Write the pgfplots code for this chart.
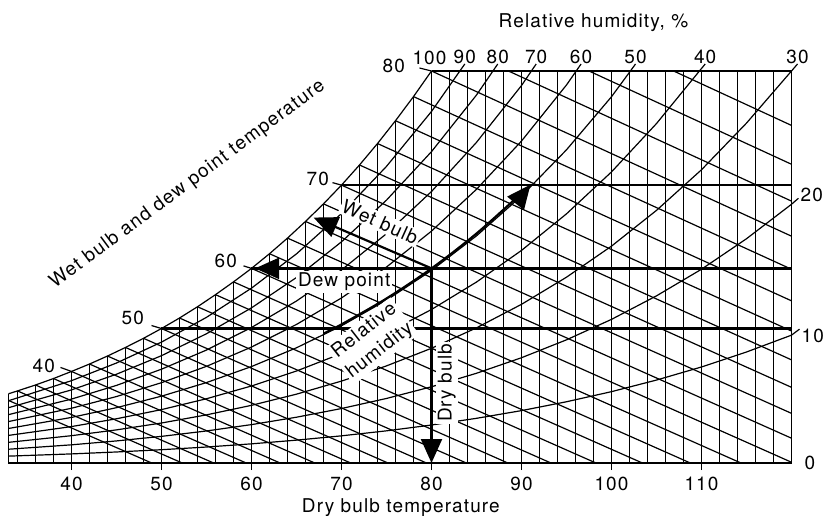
\documentclass[border=0pt]{standalone}
\usepackage{fontspec}
\setmainfont{TeX Gyre Heros}[LetterSpace=6]
\usepackage{pgfplots}
\pgfplotsset{compat=1.18}
\usetikzlibrary{arrows.meta}
\newcommand{\fs}{\fontsize{19bp}{25bp}\selectfont}
\begin{document}
\begin{tikzpicture}[
  gl/.style={black, line width=1.2bp, line join=round},
  bold/.style={black, line width=2.4bp},
  arr/.style={black, line width=2.2bp, -{Triangle[width=21bp,length=24bp]}},
  box/.style={fill=white, inner sep=2bp, font=\fs},
]
\begin{axis}[
  scale only axis, width=783bp, height=392bp,
  xmin=33, xmax=120, ymin=0, ymax=155.72,
  enlargelimits=false, clip=false,
  axis x line=bottom, axis y line=none,
  x axis line style={-, line width=1.2bp},
  xtick={40,50,...,110}, xtick align=outside,
  major tick length=7bp,
  tick style={black, line width=1.2bp},
  xticklabel style={font=\fs, yshift=-4bp},
  /pgf/number format/assume math mode=true,
  unbounded coords=jump,
]
% dry bulb (vertical) lines and right edge
\addplot[gl] coordinates {
(33,0)(33,27.50) (40,nan)
(34,0)(34,28.63) (40,nan)
(36,0)(36,30.99) (40,nan)
(38,0)(38,33.55) (40,nan)
(40,0)(40,36.37) (40,nan)
(42,0)(42,39.31) (40,nan)
(44,0)(44,42.49) (40,nan)
(46,0)(46,45.90) (40,nan)
(48,0)(48,49.53) (40,nan)
(50,0)(50,53.42) (40,nan)
(52,0)(52,57.59) (40,nan)
(54,0)(54,62.07) (40,nan)
(56,0)(56,66.87) (40,nan)
(58,0)(58,71.95) (40,nan)
(60,0)(60,77.31) (40,nan)
(62,0)(62,83.13) (40,nan)
(64,0)(64,89.34) (40,nan)
(66,0)(66,95.96) (40,nan)
(68,0)(68,102.94) (40,nan)
(70,0)(70,110.38) (40,nan)
(72,0)(72,118.38) (40,nan)
(74,0)(74,126.90) (40,nan)
(76,0)(76,135.97) (40,nan)
(78,0)(78,145.55) (40,nan)
(80,0)(80,155.72) (40,nan)
(82,0)(82,155.72) (40,nan)
(84,0)(84,155.72) (40,nan)
(86,0)(86,155.72) (40,nan)
(88,0)(88,155.72) (40,nan)
(90,0)(90,155.72) (40,nan)
(92,0)(92,155.72) (40,nan)
(94,0)(94,155.72) (40,nan)
(96,0)(96,155.72) (40,nan)
(98,0)(98,155.72) (40,nan)
(100,0)(100,155.72) (40,nan)
(102,0)(102,155.72) (40,nan)
(104,0)(104,155.72) (40,nan)
(106,0)(106,155.72) (40,nan)
(108,0)(108,155.72) (40,nan)
(110,0)(110,155.72) (40,nan)
(112,0)(112,155.72) (40,nan)
(114,0)(114,155.72) (40,nan)
(116,0)(116,155.72) (40,nan)
(118,0)(118,155.72) (40,nan)
(120,0)(120,155.72)(80,155.72)
};
% wet bulb lines
\addplot[gl] coordinates {
(33,24.85)(48.91,0) (40,nan)
(34,28.63)(52.30,0) (40,nan)
(36,30.99)(55.79,0) (40,nan)
(38,33.55)(59.41,0) (40,nan)
(40,36.37)(63.18,0) (40,nan)
(42,39.31)(67.03,0) (40,nan)
(44,42.49)(71.02,0) (40,nan)
(46,45.90)(75.16,0) (40,nan)
(48,49.53)(79.44,0) (40,nan)
(50,53.42)(83.87,0) (40,nan)
(52,57.59)(88.48,0) (40,nan)
(54,62.07)(93.27,0) (40,nan)
(56,66.87)(98.27,0) (40,nan)
(58,71.95)(103.43,0) (40,nan)
(60,77.31)(108.76,0) (40,nan)
(62,83.13)(114.38,0) (40,nan)
(64,89.34)(120,0.3) (40,nan)
(66,95.96)(120,9.85) (40,nan)
(68,102.94)(120,19.72) (40,nan)
(70,110.38)(120,30.06) (40,nan)
(72,118.38)(120,40.97) (40,nan)
(74,126.90)(120,52.42) (40,nan)
(76,135.97)(120,64.42) (40,nan)
(78,145.55)(120,76.96) (40,nan)
(80,155.72)(120,90.10) (40,nan)
(88.55,155.72)(120,104.03) (40,nan)
(97.5,155.72)(120,118.67) (40,nan)
(106.9,155.72)(120,134.10)
};
% saturation curve (100 %)
\addplot[gl] coordinates {(33,27.50)(34,28.63)(36,30.99)(38,33.55)(40,36.37)(42,39.31)(44,42.49)(46,45.90)(48,49.53)(50,53.42)(52,57.59)(54,62.07)(56,66.87)(58,71.95)(60,77.31)(62,83.13)(64,89.34)(66,95.96)(68,102.94)(70,110.38)(72,118.38)(74,126.90)(76,135.97)(78,145.55)(80,155.72)};
% relative humidity curves
\addplot[gl] coordinates {(33,2.73)(40,3.61)(45,4.38)(50,5.28)(55,6.35)(60,7.61)(65,9.08)(70,10.79)(75,12.78)(80,15.09)(85,17.75)(90,20.81)(95,24.33)(100,28.34)(105,32.95)(110,38.15)(115,44.10)(120,50.79)(120.89,53.17)};
\addplot[gl] coordinates {(33,5.47)(40,7.22)(45,8.77)(50,10.58)(55,12.73)(60,15.25)(65,18.19)(70,21.64)(75,25.64)(80,30.28)(85,35.65)(90,41.82)(95,48.93)(100,57.05)(105,66.40)(110,76.97)(115,89.09)(120,102.78)(120.77,105.16)};
\addplot[gl] coordinates {(33,8.21)(40,10.85)(45,13.16)(50,15.89)(55,19.12)(60,22.91)(65,27.35)(70,32.54)(75,38.58)(80,45.57)(85,53.69)(90,63.03)(95,73.81)(100,86.15)(105,100.36)(110,116.49)(115,135.02)(120,155.72)(120.67,158.5)};
\addplot[gl] coordinates {(33,10.96)(40,14.47)(45,17.57)(50,21.21)(55,25.53)(60,30.60)(65,36.54)(70,43.49)(75,51.59)(80,60.98)(85,71.88)(90,84.44)(95,98.98)(100,115.63)(105,134.85)(109.77,155.72)(110.41,158.5)};
\addplot[gl] coordinates {(33,13.71)(40,18.11)(45,21.98)(50,26.55)(55,31.95)(60,38.31)(65,45.77)(70,54.50)(75,64.68)(80,76.49)(85,90.23)(90,106.07)(95,124.42)(100,145.50)(102.10,155.72)(102.67,158.5)};
\addplot[gl] coordinates {(33,16.46)(40,21.75)(45,26.40)(50,31.90)(55,38.40)(60,46.06)(65,55.04)(70,65.56)(75,77.85)(80,92.11)(85,108.72)(90,127.90)(95,150.17)(96.08,155.72)(96.62,158.5)};
\addplot[gl] coordinates {(33,19.21)(40,25.39)(45,30.83)(50,37.26)(55,44.87)(60,53.83)(65,64.35)(70,76.68)(75,91.10)(80,107.85)(85,127.38)(90,149.95)(91.10,155.72)(91.63,158.5)};
\addplot[gl] coordinates {(33,21.97)(40,29.04)(45,35.27)(50,42.63)(55,51.35)(60,61.63)(65,73.70)(70,87.86)(75,104.42)(80,123.69)(85,146.18)(86.83,155.72)(87.36,158.5)};
\addplot[gl] coordinates {(33,24.73)(40,32.70)(45,39.72)(50,48.02)(55,57.86)(60,69.46)(65,83.08)(70,99.09)(75,117.83)(80,139.65)(83.15,155.72)(83.70,158.5)};
% bold dew point lines
\addplot[bold] coordinates {(50,53.42)(120,53.42) (40,nan) (60,77.31)(120,77.31) (40,nan) (70,110.38)(120,110.38)};
% annotation boxes
\node[box, rotate=-24.4] at (axis cs:74.3,95.7) {Wet bulb};
\node[box] at (axis cs:70.3,71.9) {Dew point};
\node[box, rotate=38, align=center] at (axis cs:73.4,48.5) {Relative\\humidity};
\node[box, rotate=90] at (axis cs:81.7,31.8) {Dry bulb};
% arrows
\addplot[arr] coordinates {(80,77.31)(80,0)};
\addplot[arr] coordinates {(80,77.31)(60.4,77.31)};
\addplot[arr] coordinates {(80,77.31)(66.9,97.5)};
\addplot[arr, smooth] coordinates {(68,51.39)(70,55.05)(75,65.34)(80,77.27)(85,91.15)(90,107.15)(91,110.60)};
% RH labels
\node[anchor=south, inner sep=0pt, font=\fs] at (axis cs:80,155.72) [yshift=6.5bp, xshift=-2bp] {100};
\node[anchor=south, inner sep=0pt, font=\fs] at (axis cs:83.70,158.5) {90};
\node[anchor=south, inner sep=0pt, font=\fs] at (axis cs:87.36,158.5) {80};
\node[anchor=south, inner sep=0pt, font=\fs] at (axis cs:91.63,158.5) {70};
\node[anchor=south, inner sep=0pt, font=\fs] at (axis cs:96.62,158.5) {60};
\node[anchor=south, inner sep=0pt, font=\fs] at (axis cs:102.67,158.5) {50};
\node[anchor=south, inner sep=0pt, font=\fs] at (axis cs:110.41,158.5) {40};
\node[anchor=south, inner sep=0pt, font=\fs] at (axis cs:120.67,158.5) {30};
\node[anchor=west, inner sep=0pt, font=\fs] at (axis cs:120.77,105.16) [xshift=2bp, yshift=3bp] {20};
\node[anchor=west, inner sep=0pt, font=\fs] at (axis cs:120.89,53.17) [xshift=2bp, yshift=-7bp] {10};
\node[anchor=west, inner sep=0pt, font=\fs] at (axis cs:120,0) [xshift=13bp] {0};
% wet bulb / dew point labels on the saturation curve
\draw[gl] (axis cs:80,155.72) -- ++(-12bp,3bp) node[anchor=east, inner sep=0pt, xshift=-14bp, yshift=2bp, font=\fs] {80};
\draw[gl] (axis cs:70,110.38) -- ++(-9bp,2.5bp) node[anchor=east, inner sep=0pt, xshift=-3bp, yshift=4bp, font=\fs] {70};
\draw[gl] (axis cs:60,77.31) -- ++(-8bp,2.5bp) node[anchor=east, inner sep=0pt, xshift=-6bp, yshift=5bp, font=\fs] {60};
\draw[gl] (axis cs:50,53.42) -- ++(-10bp,3bp) node[anchor=east, inner sep=0pt, xshift=-7bp, yshift=8bp, font=\fs] {50};
\draw[gl] (axis cs:40,36.37) -- ++(-11bp,4bp) node[anchor=east, inner sep=0pt, xshift=-5bp, yshift=2bp, font=\fs] {40};
% titles
\node[rotate=36.5, font=\fs] at (axis cs:52.9,110.8) {Wet bulb and dew point temperature};
\node[anchor=base, font=\fs] at (axis cs:98.0,172.8) {Relative humidity, \%};
\node[anchor=base, font=\fs] at (axis cs:76.6,-19.5) {Dry bulb temperature};
\coordinate (bbsw) at (rel axis cs:-0.010856,-0.13520);
\coordinate (bbne) at (rel axis cs:1.047893,1.18112);
\end{axis}
\pgfresetboundingbox
\path[use as bounding box] (bbsw) rectangle (bbne);
\end{tikzpicture}
\end{document}
